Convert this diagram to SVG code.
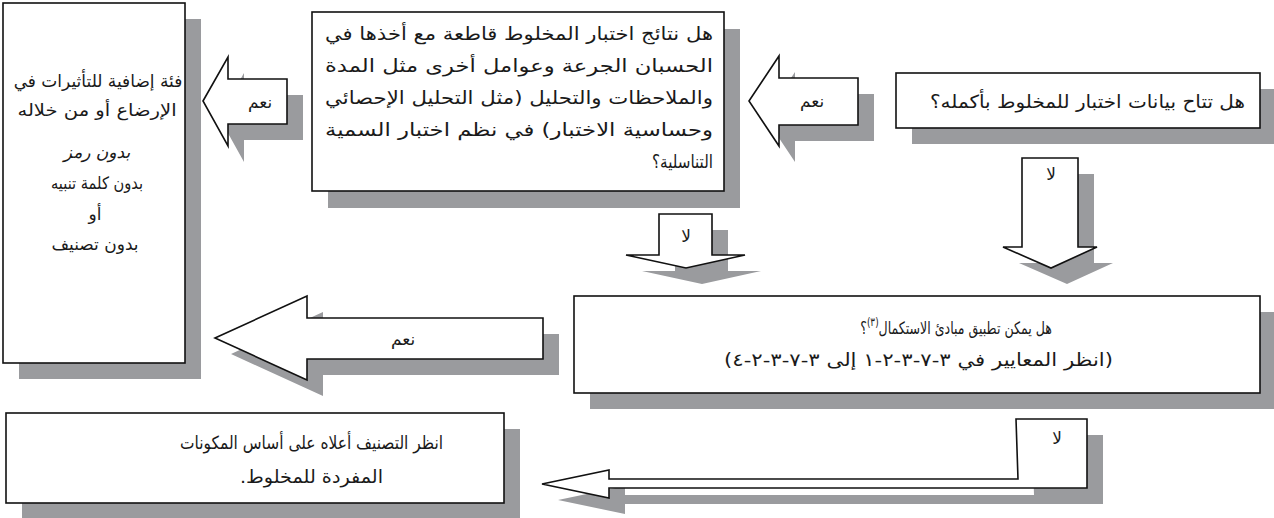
<svg xmlns="http://www.w3.org/2000/svg" width="1274" height="518" viewBox="0 0 1274 518">
<style>
  .sh { fill: #9a9b9e; stroke: none; }
  .box { fill: #ffffff; stroke: #111111; stroke-width: 1.6; }
  .arr { fill: #ffffff; stroke: #111111; stroke-width: 1.6; stroke-linejoin: miter; }
  .t { font-family: "DejaVu Sans", sans-serif; font-size: 18px; fill: #1a1a1a; direction: rtl; unicode-bidi: embed; text-anchor: start; dominant-baseline: central; }
  .c { text-anchor: middle; font-size: 17px; }
  .it { font-style: italic; }
  .lbl { font-family: "DejaVu Sans", sans-serif; font-size: 17px; fill: #1a1a1a; direction: rtl; unicode-bidi: embed; text-anchor: middle; dominant-baseline: central; }
</style>
<rect width="1274" height="518" fill="#ffffff"/>

<g id="shadows">
  <rect class="sh" x="19" y="19" width="182" height="360"/>
  <rect class="sh" x="328" y="29" width="412" height="179"/>
  <rect class="sh" x="912" y="89" width="364" height="55"/>
  <rect class="sh" x="590" y="312" width="686" height="97"/>
  <rect class="sh" x="22" y="429" width="498" height="90"/>
  <g transform="translate(16,16)">
    <path class="sh" d="M203,101 L228,57 L228,79 L287,79 L287,124 L228,124 L228,146 Z"/>
    <path class="sh" d="M749,101 L779,56 L779,78 L858,78 L858,125 L779,125 L779,146 Z"/>
    <path class="sh" d="M659,214 L712,214 L712,255 L745,255 L686,268 L626,255 L659,255 Z"/>
    <path class="sh" d="M1022,158 L1078,158 L1078,247 L1097,247 L1051,268 L1003,247 L1022,247 Z"/>
    <path class="sh" d="M215,338 L307,296 L307,318 L543,318 L543,359 L307,359 L307,380 Z"/>
    <path class="sh" d="M1016,419 L1087,419 L1087,488 L609,488 L609,498 L542,484 L609,470 L609,479 L1018,479 Z"/>
  </g>
</g>

<g id="node-extra-category">
  <rect class="box" x="3" y="3" width="182" height="360"/>
  <text class="t c" x="98" y="81">فئة إضافية للتأثيرات في</text>
  <text class="t c" transform="translate(97,110) scale(1.15,1)" x="0" y="0" font-size="18">الإرضاع أو من خلاله</text>
  <text class="t c it" x="97" y="152" font-size="16">بدون رمز</text>
  <text class="t c" transform="translate(97,183) scale(0.86,1)" x="0" y="0">بدون كلمة تنبيه</text>
  <text class="t c" x="95" y="214">أو</text>
  <text class="t c" x="95" y="244">بدون تصنيف</text>
</g>

<g id="node-conclusive">
  <rect class="box" x="312" y="12" width="412" height="179"/>
  <text class="t" x="713" y="33" textLength="388" lengthAdjust="spacingAndGlyphs">هل نتائج اختبار المخلوط قاطعة مع أخذها في</text>
  <text class="t" x="713" y="65" textLength="388" lengthAdjust="spacingAndGlyphs">الحسبان الجرعة وعوامل أخرى مثل المدة</text>
  <text class="t" x="713" y="97" textLength="388" lengthAdjust="spacingAndGlyphs">والملاحظات والتحليل (مثل التحليل الإحصائي</text>
  <text class="t" x="713" y="129" textLength="388" lengthAdjust="spacingAndGlyphs">وحساسية الاختبار) في نظم اختبار السمية</text>
  <text class="t" x="713" y="161" textLength="61" lengthAdjust="spacingAndGlyphs">التناسلية؟</text>
</g>

<g id="node-data-available">
  <rect class="box" x="896" y="73" width="364" height="55"/>
  <text class="t" x="1245" y="101" textLength="315" lengthAdjust="spacingAndGlyphs">هل تتاح بيانات اختبار للمخلوط بأكمله؟</text>
</g>

<g id="node-bridging">
  <rect class="box" x="574" y="296" width="686" height="97"/>
  <text class="t c" transform="translate(956,328) scale(0.74,1)" x="0" y="0" font-size="19">هل يمكن تطبيق مبادئ الاستكمال<tspan font-size="12" baseline-shift="super">(٣)</tspan>؟</text>
  <text class="t" x="1113" y="359" textLength="389" lengthAdjust="spacingAndGlyphs">(انظر المعايير في ٣-٧-٣-٢-١ إلى ٣-٧-٣-٢-٤)</text>
</g>

<g id="node-components">
  <rect class="box" x="6" y="413" width="498" height="90"/>
  <text class="t" x="443" y="442" textLength="263" lengthAdjust="spacingAndGlyphs">انظر التصنيف أعلاه على أساس المكونات</text>
  <text class="t" x="383" y="476" textLength="143" lengthAdjust="spacingAndGlyphs">المفردة للمخلوط.</text>
</g>

<g id="connectors">
  <g id="c-yes-1">
    <path class="arr" d="M203,101 L228,57 L228,79 L287,79 L287,124 L228,124 L228,146 Z"/>
    <text class="lbl" x="260" y="102">نعم</text>
  </g>
  <g id="c-yes-2">
    <path class="arr" d="M749,101 L779,56 L779,78 L858,78 L858,125 L779,125 L779,146 Z"/>
    <text class="lbl" x="812" y="101">نعم</text>
  </g>
  <g id="c-no-1">
    <path class="arr" d="M659,214 L712,214 L712,255 L745,255 L686,268 L626,255 L659,255 Z"/>
    <text class="lbl" x="686" y="236">لا</text>
  </g>
  <g id="c-no-2">
    <path class="arr" d="M1022,158 L1078,158 L1078,247 L1097,247 L1051,268 L1003,247 L1022,247 Z"/>
    <text class="lbl" x="1051" y="174">لا</text>
  </g>
  <g id="c-yes-3">
    <path class="arr" d="M215,338 L307,296 L307,318 L543,318 L543,359 L307,359 L307,380 Z"/>
    <text class="lbl" x="403" y="339">نعم</text>
  </g>
  <g id="c-no-3">
    <path class="arr" d="M1016,419 L1087,419 L1087,488 L609,488 L609,498 L542,484 L609,470 L609,479 L1018,479 Z"/>
    <text class="lbl" x="1057" y="438">لا</text>
  </g>
</g>
</svg>
